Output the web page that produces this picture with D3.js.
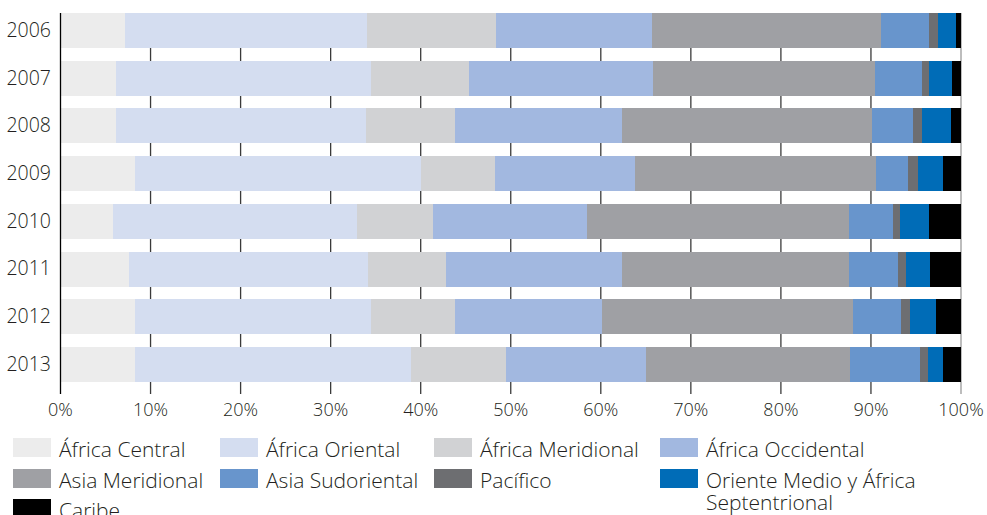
<!DOCTYPE html>
<html lang="es">
<head>
    <meta charset="UTF-8">
    <title>Distribución por región</title>
    <script src="https://cdnjs.cloudflare.com/ajax/libs/d3/7.8.5/d3.min.js"></script>
    <style>
        body { margin: 0; background: #fff; }
        text {
            font-family: "Open Sans", "Liberation Sans", sans-serif;
            font-weight: 300;
            fill: #231f20;
        }
    </style>
</head>
<body>
    <div id="chart"></div>

    <script>
        // años y regiones
        const years = ["2006", "2007", "2008", "2009", "2010", "2011", "2012", "2013"];
        const regions = ["África Central", "África Oriental", "África Meridional", "África Occidental",
            "Asia Meridional", "Asia Sudoriental", "Pacífico", "Oriente Medio y África Septentrional", "Caribe"];
        const colors = ["#ececec", "#d4ddf0", "#d1d2d4", "#a2b8e0", "#9fa0a4", "#6895cc", "#6d6e71", "#006cb7", "#000000"];

        // porcentaje de cada región por año (en el orden de regions)
        const africaCentral    = [7.2, 6.2, 6.2, 8.3, 5.8, 7.6, 8.3, 8.3];
        const africaOriental   = [26.8, 28.3, 27.7, 31.7, 27.1, 26.5, 26.2, 30.6];
        const africaMeridional = [14.4, 10.9, 9.9, 8.3, 8.5, 8.7, 9.3, 10.6];
        const africaOccidental = [17.3, 20.4, 18.6, 15.5, 17.1, 19.6, 16.3, 15.5];
        const asiaMeridional   = [25.4, 24.6, 27.7, 26.8, 29.1, 25.2, 27.9, 22.7];
        const asiaSudoriental  = [5.4, 5.3, 4.6, 3.5, 4.8, 5.4, 5.3, 7.7];
        const pacifico         = [1.0, 0.8, 1.0, 1.1, 0.8, 0.9, 1.0, 0.9];
        const orienteMedio     = [1.9, 2.5, 3.2, 2.8, 3.3, 2.7, 2.9, 1.7];
        const caribe           = [0.6, 1.0, 1.1, 2.0, 3.5, 3.4, 2.8, 2.0];

        const xTicks = [0, 10, 20, 30, 40, 50, 60, 70, 80, 90, 100];

        const series = [africaCentral, africaOriental, africaMeridional, africaOccidental,
            asiaMeridional, asiaSudoriental, pacifico, orienteMedio, caribe];

        const rows = years.map((y, i) => {
            const r = { year: y };
            regions.forEach((name, k) => r[name] = series[k][i]);
            return r;
        });

        const width = 987, height = 515;
        const svg = d3.select("#chart").append("svg")
            .attr("width", width)
            .attr("height", height);

        const x = d3.scaleLinear().domain([0, 100]).range([60.5, 961]);
        const y = d3.scaleBand().domain(years).range([13, 394])
            .paddingInner(0.266).paddingOuter(0.126).align(0);

        // líneas de cuadrícula (detrás de las barras)
        svg.append("g").selectAll("line")
            .data(xTicks.slice(1))
            .join("line")
            .attr("x1", d => x(d)).attr("x2", d => x(d))
            .attr("y1", 13).attr("y2", 394)
            .attr("stroke", d => d === 100 ? "#9a9a9a" : "#3a3a3a")
            .attr("stroke-width", 1.3);

        const stacked = d3.stack().keys(regions)(rows);

        svg.append("g").selectAll("g")
            .data(stacked)
            .join("g")
            .attr("fill", (d, i) => colors[i])
            .selectAll("rect")
            .data(d => d)
            .join("rect")
            .attr("x", d => x(d[0]))
            .attr("width", d => x(d[1]) - x(d[0]))
            .attr("y", d => y(d.data.year))
            .attr("height", y.bandwidth())
            .attr("shape-rendering", "crispEdges");

        // eje vertical
        svg.append("line")
            .attr("x1", x(0)).attr("x2", x(0))
            .attr("y1", 13).attr("y2", 394)
            .attr("stroke", "#000").attr("stroke-width", 1.3);

        // etiquetas de años
        svg.append("g").selectAll("text")
            .data(years)
            .join("text")
            .attr("x", 51)
            .attr("y", d => y(d) + y.bandwidth() / 2)
            .attr("dy", "0.33em")
            .attr("text-anchor", "end")
            .style("font-size", "19.5px")
            .text(d => d);

        // etiquetas del eje x
        svg.append("g").selectAll("text")
            .data(xTicks)
            .join("text")
            .attr("x", d => x(d))
            .attr("y", 416)
            .attr("text-anchor", "middle")
            .style("font-size", "18px")
            .text(d => d + "%");

        // leyenda
        const colX = [13, 220, 434, 660];
        const rowY = [438, 469, 499];
        const legend = svg.append("g").selectAll("g")
            .data(regions)
            .join("g")
            .attr("transform", (d, i) => `translate(${colX[i % 4]},${rowY[Math.floor(i / 4)]})`);

        legend.append("rect")
            .attr("width", 38).attr("height", 19)
            .attr("fill", (d, i) => colors[i]);

        legend.append("text")
            .attr("x", 46)
            .attr("y", 18.5)
            .style("font-size", "21px")
            .each(function (d) {
                const t = d3.select(this);
                if (d === "Oriente Medio y África Septentrional") {
                    t.append("tspan").attr("x", 46).text("Oriente Medio y África");
                    t.append("tspan").attr("x", 46).attr("dy", 22).text("Septentrional");
                } else {
                    t.text(d);
                }
            });
    </script>
</body>
</html>
